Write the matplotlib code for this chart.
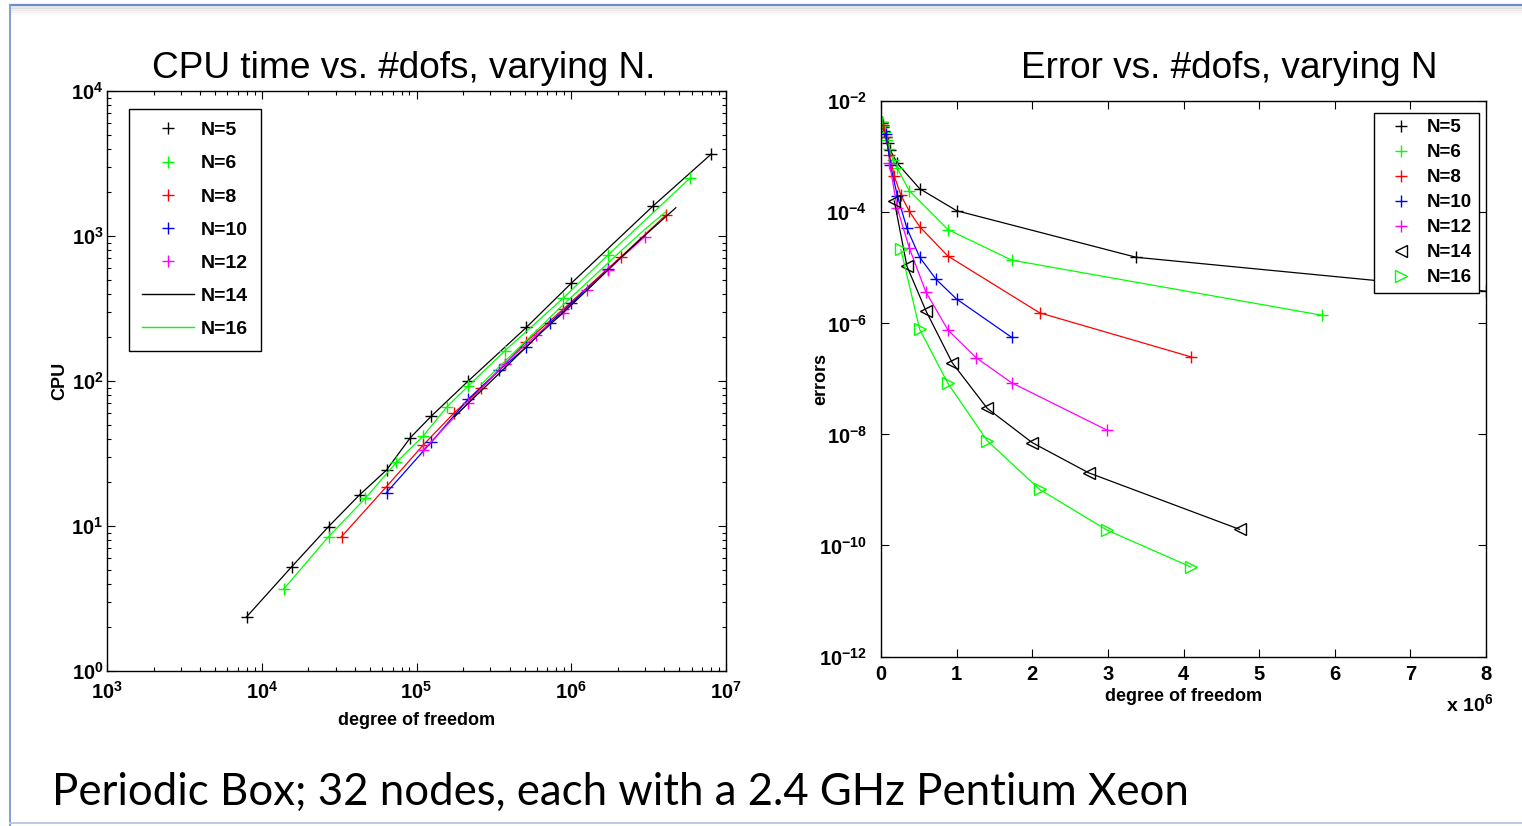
#!/usr/bin/env python3

'''CPU time and error vs. degrees of freedom, varying N (slide reproduction).'''

import matplotlib
matplotlib.use('Agg')
import matplotlib.pyplot as plt
import matplotlib.ticker as ticker
import matplotlib.lines as mlines
from matplotlib import font_manager


W, H = 1522, 826

# degrees of freedom per polynomial order N
DOFS_5 = [8000, 15625, 27000, 42875, 64000, 91125, 125000, 216000, 512000,
          1000000, 3375000, 8000000]
DOFS_6 = [13824, 27000, 46656, 74088, 110592, 157464, 216000, 373248, 884736,
          1728000, 5832000]
DOFS_8 = [32768, 64000, 110592, 175616, 262144, 373248, 512000, 884736,
          2097152, 4096000]
DOFS_10 = [64000, 125000, 216000, 343000, 512000, 729000, 1000000, 1728000]
DOFS_12 = [110592, 216000, 373248, 592704, 884736, 1259712, 1728000, 2985984]
DOFS_14 = [175616, 343000, 592704, 941192, 1404928, 2000376, 2744000, 4741632]
DOFS_16 = [262144, 512000, 884736, 1404928, 2097152, 2985984, 4096000]

# CPU time (left panel)
CPU_5 = [2.37, 5.24, 9.9, 16.4, 24.3, 40.6, 57.4, 100, 234, 472, 1610, 3660]
CPU_6 = [3.66, 8.44, 15.5, 27.5, 41.8, 66.5, 92.4, 162, 372, 740, 2500]
CPU_8 = [8.44, 18.7, 36.2, 60.5, 89, 131, 187, 312, 720, 1396]
CPU_10 = [17.0, 38, 75, 119, 171, 252, 343, 590]
CPU_12 = [33.4, 71, 132, 207, 293, 425, 583, 990]
CPU_14 = [56.7, 113, 200, 315, 470, 680, 930, 1567]
CPU_16 = [95, 190, 335, 530, 790, 1110, 1472]

# errors (right panel)
ERR_5 = [4.3e-3, 4.0e-3, 3.5e-3, 2.9e-3, 2.3e-3, 1.8e-3, 1.3e-3, 7.6e-4,
         2.66e-4, 1.07e-4, 1.55e-5, 3.8e-6]
ERR_6 = [4.2e-3, 3.6e-3, 2.8e-3, 2.0e-3, 1.4e-3, 8.7e-4, 6.2e-4, 2.45e-4,
         4.9e-5, 1.38e-5, 1.4e-6]
ERR_8 = [3.7e-3, 2.3e-3, 1.1e-3, 4.5e-4, 2.05e-4, 1.05e-4, 5.5e-5, 1.63e-5,
         1.55e-6, 2.5e-7]
ERR_10 = [2.6e-3, 7e-4, 2.0e-4, 5.15e-5, 1.55e-5, 6.2e-6, 2.74e-6, 5.6e-7]
ERR_12 = [7.8e-4, 1.18e-4, 2.3e-5, 3.7e-6, 7.6e-7, 2.4e-7, 8.5e-8, 1.2e-8]
ERR_14 = [1.6e-4, 1.07e-5, 1.7e-6, 1.96e-7, 2.95e-8, 7.1e-9, 2.04e-9, 1.95e-10]
ERR_16 = [2.15e-5, 7.8e-7, 8.3e-8, 7.7e-9, 1.02e-9, 1.9e-10, 4.1e-11]

LABELS = ['N=5', 'N=6', 'N=8', 'N=10', 'N=12', 'N=14', 'N=16']
COLORS = ['black', '#00ff00', '#ff0000', '#0000ff', '#ff00ff', 'black', '#00ff00']

TITLE_LEFT = 'CPU time vs. #dofs, varying N.'
TITLE_RIGHT = 'Error vs. #dofs, varying N'
CAPTION = 'Periodic Box; 32 nodes, each with a 2.4 GHz Pentium Xeon'
X_LABEL = 'degree of freedom'

_names = {f.name for f in font_manager.fontManager.ttflist}
NARROW = 'Liberation Sans Narrow' if 'Liberation Sans Narrow' in _names else 'Liberation Sans'
SLIDE_FONT = 'Lato' if 'Lato' in _names else 'DejaVu Sans'

plt.rcParams['font.family'] = [NARROW, 'DejaVu Sans']
plt.rcParams['font.weight'] = 'bold'
plt.rcParams['axes.labelweight'] = 'bold'
plt.rcParams['font.size'] = 15
plt.rcParams['mathtext.default'] = 'regular'
plt.rcParams['axes.linewidth'] = 1.0


def px_box(left, top, right, bottom):
    '''Pixel box -> figure fraction rect.'''
    return [left / W, 1 - bottom / H, (right - left) / W, (bottom - top) / H]


def style_axis(axis, xpad, ypad):
    '''MATLAB-like inward ticks on every side.'''
    axis.tick_params(which='both', direction='in', top=True, right=True,
                     width=0.8, labelsize=14.5)
    axis.tick_params(which='major', length=6)
    axis.tick_params(which='minor', length=3)
    axis.tick_params(axis='x', pad=xpad)
    axis.tick_params(axis='y', pad=ypad)


fig = plt.figure(figsize=(W / 100, H / 100), dpi=100)

# slide frame
fig.add_artist(mlines.Line2D([10 / W, 1], [1 - 5 / H] * 2, color='#6a8cc8', lw=1.6))
for i, alpha in enumerate([0.18, 0.12, 0.07, 0.04]):
    fig.add_artist(mlines.Line2D([11 / W, 1], [1 - (7 + i * 2) / H] * 2,
                                 color='gray', lw=2, alpha=alpha))
fig.add_artist(mlines.Line2D([10 / W] * 2, [1 - 5 / H, 0], color='#7f9ed4', lw=1.4))
fig.add_artist(mlines.Line2D([10 / W, 1], [3 / H] * 2, color='#b9cbe8', lw=1.4))

# ---- left: CPU time ----
ax1 = fig.add_axes(px_box(107, 91, 726, 671))
left_series = [(DOFS_5, CPU_5, '+'), (DOFS_6, CPU_6, '+'), (DOFS_8, CPU_8, '+'),
               (DOFS_10, CPU_10, '+'), (DOFS_12, CPU_12, '+'),
               (DOFS_14, CPU_14, ''), (DOFS_16, CPU_16, '')]
for (x, y, mk), col in zip(left_series, COLORS):
    ax1.plot(x, y, '-', marker=mk or None, color=col, lw=0.9, ms=8, mew=1.0)
ax1.set_xscale('log')
ax1.set_yscale('log')
ax1.set_xlim(1e3, 1e7)
ax1.set_ylim(1e0, 1e4)
ax1.xaxis.set_major_locator(ticker.LogLocator(base=10, numticks=10))
ax1.yaxis.set_major_locator(ticker.LogLocator(base=10, numticks=10))
ax1.xaxis.set_minor_locator(ticker.LogLocator(base=10, subs=range(2, 10), numticks=50))
ax1.yaxis.set_minor_locator(ticker.LogLocator(base=10, subs=range(2, 10), numticks=50))
ax1.xaxis.set_minor_formatter(ticker.NullFormatter())
ax1.yaxis.set_minor_formatter(ticker.NullFormatter())
style_axis(ax1, 7, 2.5)
ax1.set_xlabel(X_LABEL, fontsize=13, weight='bold')
ax1.xaxis.set_label_coords(0.5, -0.071)
ax1.set_ylabel('CPU', fontsize=13, weight='bold')
ax1.yaxis.set_label_coords(-0.063, 0.5)

handles = []
for lab, col, mk in zip(LABELS, COLORS, ['+'] * 5 + ['', '']):
    if mk:
        handles.append(mlines.Line2D([], [], color=col, marker='+', ls='none',
                                     ms=8, mew=1.0, label=lab))
    else:
        handles.append(mlines.Line2D([], [], color=col, lw=1.0, label=lab))
leg = ax1.legend(handles=handles, loc='upper left',
                 bbox_to_anchor=(129 / W, 1 - 109 / H), bbox_transform=fig.transFigure,
                 borderaxespad=0, fancybox=False, framealpha=1, fontsize=14,
                 handlelength=2.7, handletextpad=0.35, borderpad=0.65,
                 labelspacing=0.80)
leg.get_frame().set_edgecolor('black')
leg.get_frame().set_linewidth(1.0)

# ---- right: error ----
ax2 = fig.add_axes(px_box(881, 101.3, 1486, 656.5))
right_series = [(DOFS_5, ERR_5, '+'), (DOFS_6, ERR_6, '+'), (DOFS_8, ERR_8, '+'),
                (DOFS_10, ERR_10, '+'), (DOFS_12, ERR_12, '+'),
                (DOFS_14, ERR_14, '<'), (DOFS_16, ERR_16, '>')]
for (x, y, mk), col in zip(right_series, COLORS):
    ax2.plot(x, y, '-', marker=mk, color=col, lw=0.9,
             ms=8 if mk == '+' else 8.5, mew=1.0, mfc='none')
ax2.set_yscale('log')
ax2.set_xlim(0, 8e6)
ax2.set_ylim(1e-12, 1e-2)
ax2.set_yticks([1e-12, 1e-10, 1e-8, 1e-6, 1e-4, 1e-2])
ax2.yaxis.set_major_formatter(ticker.LogFormatterSciNotation())
ax2.yaxis.set_minor_locator(ticker.NullLocator())
ax2.set_xticks([i * 1e6 for i in range(9)])
ax2.xaxis.set_major_formatter(ticker.FuncFormatter(lambda v, p: '%d' % round(v / 1e6)))
style_axis(ax2, 6, 10)
ax2.set_xlabel(X_LABEL, fontsize=13, weight='bold')
ax2.xaxis.set_label_coords(0.5, -0.057)
ax2.set_ylabel('errors', fontsize=13, weight='bold')
ax2.yaxis.set_label_coords(-0.086, 0.5)
ax2.text(0.934, -0.105, r'x $\mathdefault{10^{6}}$', transform=ax2.transAxes,
         fontsize=14, ha='left', va='bottom')

handles = [mlines.Line2D([], [], color=col, marker=mk, ls='none', ms=8, mew=1.0,
                         mfc='none', label=lab)
           for lab, col, mk in zip(LABELS, COLORS, ['+'] * 5 + ['<', '>'])]
leg = ax2.legend(handles=handles, loc='upper left',
                 bbox_to_anchor=(1373.7 / W, 1 - 112.7 / H), bbox_transform=fig.transFigure,
                 borderaxespad=0, fancybox=False, framealpha=1, fontsize=13.5,
                 handlelength=2.2, handletextpad=0.3, borderpad=0.35,
                 labelspacing=0.42)
leg.get_frame().set_edgecolor('black')
leg.get_frame().set_linewidth(1.0)

# ---- slide texts ----
t1 = fig.text(152 / W, 1 - 78 / H, TITLE_LEFT, family='Liberation Sans',
              weight='normal', fontsize=26.7, va='baseline')
t2 = fig.text(1021 / W, 1 - 78 / H, TITLE_RIGHT, family='Liberation Sans',
              weight='normal', fontsize=26.7, va='baseline')
cap = fig.text(52 / W, 1 - 805 / H, CAPTION, family=SLIDE_FONT,
               weight='normal', fontsize=30, va='baseline')


def fit_width(txt, target):
    '''Scale font size so the text spans target pixels.'''
    fig.canvas.draw()
    width = txt.get_window_extent().width
    txt.set_fontsize(txt.get_fontsize() * target / width)


fit_width(t1, 505)
fit_width(t2, 418)
fit_width(cap, 1133)

fig.savefig('out.png', dpi=100)
